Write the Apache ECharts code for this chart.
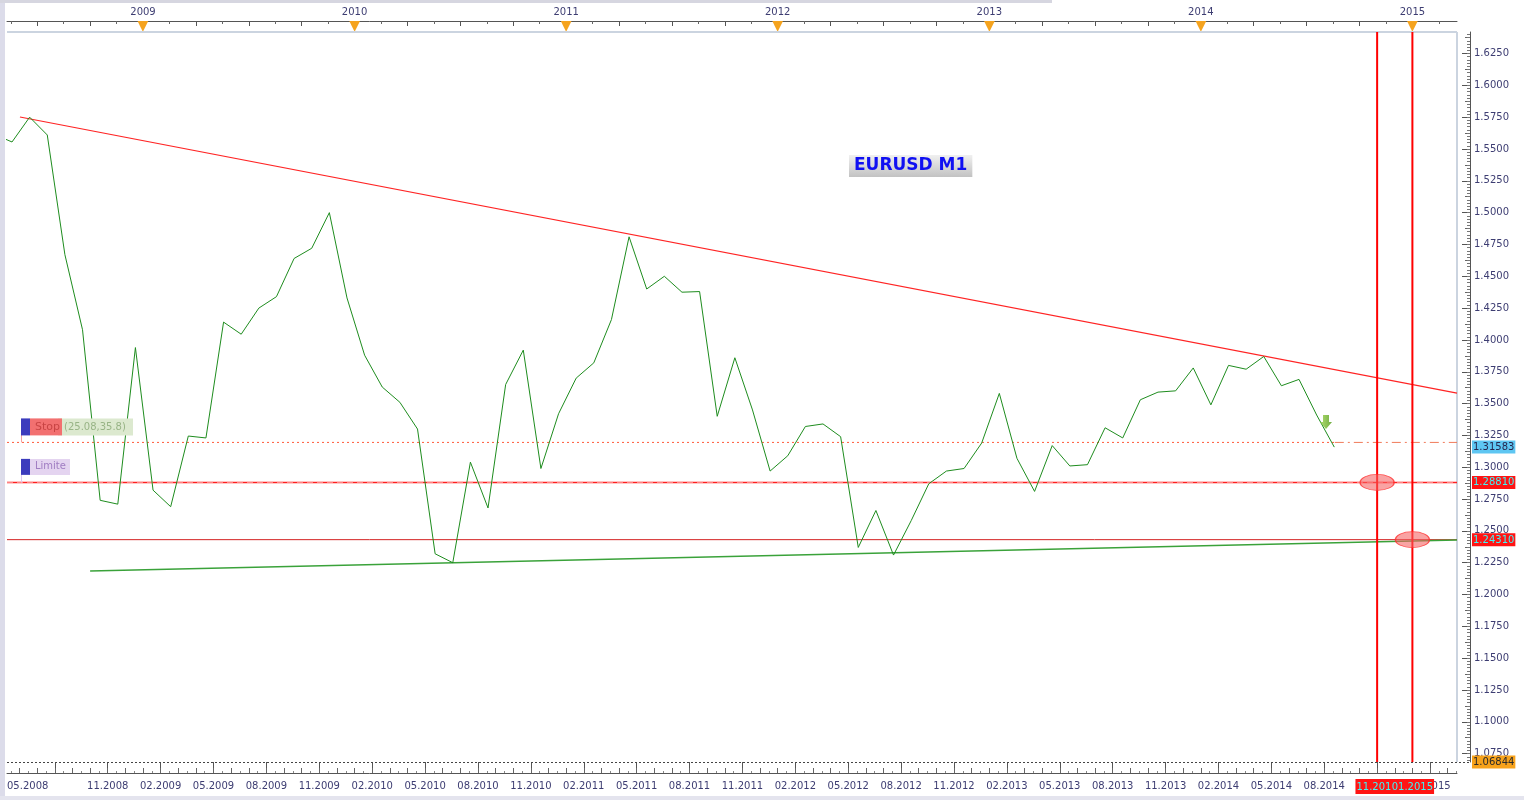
<!DOCTYPE html>
<html><head><meta charset="utf-8">
<script src="https://cdn.jsdelivr.net/npm/echarts@6/dist/echarts.min.js"></script>
<style>html,body{margin:0;padding:0;background:#fff}#c{width:1524px;height:800px}</style>
</head><body><div id="c"></div>
<script>
// ---------- data ----------
// x unit: months since Jan 2008 (0 = start of Jan 2008)
const startMonth = 3; // first close = Apr 2008
const pointOffset = 0.57; // bar point sits inside its month
const closes = [
  1.5615, 1.5555, 1.5750, 1.5610, 1.4670, 1.4080, 1.2740, 1.2710, 1.3940,           // Apr08..Dec08
  1.2820, 1.2690, 1.3245, 1.3230, 1.4140, 1.4045, 1.4250, 1.4340, 1.4640, 1.4720, 1.5000, 1.4330, // 2009
  1.3880, 1.3630, 1.3510, 1.3300, 1.2320, 1.2250, 1.3040, 1.2680, 1.3650, 1.3920, 1.2990, 1.3420, // 2010
  1.3700, 1.3820, 1.4160, 1.4810, 1.4400, 1.4500, 1.4375, 1.4380, 1.3400, 1.3860, 1.3450, 1.2970, // 2011
  1.3090, 1.3320, 1.3340, 1.3240, 1.2370, 1.2660, 1.2310, 1.2580, 1.2870, 1.2970, 1.2990, 1.3190, // 2012
  1.3580, 1.3070, 1.2810, 1.3170, 1.3010, 1.3020, 1.3310, 1.3230, 1.3530, 1.3590, 1.3600, 1.3780, // 2013
  1.3490, 1.3800, 1.3770, 1.3870, 1.3640, 1.3690, 1.3410, 1.3158                                  // 2014
];
const xMin = 4.286, xMax = 86.53;
const yMin = 1.06844, yMax = 1.6419;

const yTickValues = [1.075,1.1,1.125,1.15,1.175,1.2,1.225,1.25,1.275,1.3,1.325,1.35,1.375,1.4,1.425,1.45,1.475,1.5,1.525,1.55,1.575,1.6,1.625];
const yearLabels = ['2009','2010','2011','2012','2013','2014','2015'];
const yearMonths = [12,24,36,48,60,72,84];
const firstLabel = '05.2008';
const bottomLabels = ['11.2008','02.2009','05.2009','08.2009','11.2009','02.2010','05.2010','08.2010','11.2010','02.2011','05.2011','08.2011','11.2011','02.2012','05.2012','08.2012','11.2012','02.2013','05.2013','08.2013','11.2013','02.2014','05.2014','08.2014','11.2014','02.2015'];
const bottomLabelMonths = [10,13,16,19,22,25,28,31,34,37,40,43,46,49,52,55,58,61,64,67,70,73,76,79,82,85];

const resistance = [[5.02, 1.5751], [86.53, 1.3582]];
const support = [[9.0, 1.2184], [86.53, 1.2428]];
const stopLevel = 1.3195;
const limitLevel = 1.2881;
const lowLevel = 1.2431;
const lastPrice = 1.31583;
const lastBarMonth = 79.6;
const vLineMonths = [82, 84];
const vLineLabels = ['11.2014', '01.2015'];
const ellipses = [[82, 1.2881], [84, 1.2431]];
const arrowPoint = [[79.1, 1.3355]];
const priceTags = [lastPrice, limitLevel, lowLevel, yMin];

// ---------- chart ----------
const FONT = 'DejaVu Sans';
const LBL = '#3d3d72';
const chart = echarts.init(document.getElementById('c'));
const priceData = closes.map((v, i) => [startMonth + i + pointOffset, v]);
const range = (a, b, s) => { const r = []; for (let v = a; v <= b + 1e-9; v += s) r.push(+v.toFixed(6)); return r; };
const pick = (vals, list) => v => { const i = vals.findIndex(x => Math.abs(x - v) < 1e-6); return i < 0 ? '' : list[i]; };

const xBase = { type: 'value', min: xMin, max: xMax, gridIndex: 0, splitLine: { show: false }, axisLine: { show: false }, axisTick: { show: false }, axisLabel: { show: false } };
const yBase = { type: 'value', min: yMin, max: yMax, position: 'right', offset: 13, splitLine: { show: false }, axisLine: { show: false }, axisTick: { show: false }, axisLabel: { show: false }, scale: true };

const bottomMajor = range(7, 85, 3);
const bottomMinor = range(5, 86, 1);
const bottomTiny = range(4.5, 86.5, 1);
const topQuarter = range(6, 86, 3);
const topHalf = range(4.5, 86, 3);

const redTagAxis = (i) => Object.assign({}, xBase, { position: 'bottom', offset: 11,
  axisLabel: { show: true, customValues: [vLineMonths[i]], margin: 6,
    formatter: () => '{t|' + vLineLabels[i] + '}',
    rich: { t: { backgroundColor: '#ff1414', color: '#3ff6f6', fontFamily: FONT, fontSize: 10, padding: [3, 1, 2, 1] } } } });

const option = {
  animation: false,
  backgroundColor: '#ffffff',
  grid: { left: 7, right: 67, top: 32, bottom: 38, show: false },
  title: {
    text: 'EURUSD M1', left: 849, top: 155,
    padding: [1, 5, 1, 5],
    backgroundColor: new echarts.graphic.LinearGradient(0, 0, 0, 1, [{ offset: 0, color: '#f0f0f0' }, { offset: 1, color: '#c2c2c2' }]),
    textStyle: { color: '#1010f2', fontFamily: FONT, fontSize: 17, fontWeight: 'bold', lineHeight: 20 }
  },
  xAxis: [
    Object.assign({}, xBase, { position: 'bottom', offset: 11,
      axisLine: { show: true, lineStyle: { color: '#555', width: 1 } },
      axisTick: { show: true, inside: true, length: 11, customValues: bottomMajor, lineStyle: { color: '#555' } },
      axisLabel: { show: true, customValues: [xMin].concat(bottomLabelMonths), alignMinLabel: 'left', showMinLabel: true,
        formatter: v => Math.abs(v - xMin) < 1e-6 ? firstLabel : pick(bottomLabelMonths, bottomLabels)(v),
        color: LBL, fontFamily: FONT, fontSize: 10, margin: 8 } }),
    Object.assign({}, xBase, { position: 'bottom', offset: 11,
      axisTick: { show: true, inside: true, length: 5, customValues: bottomMinor, lineStyle: { color: '#666' } } }),
    Object.assign({}, xBase, { position: 'bottom', offset: 11,
      axisTick: { show: true, inside: true, length: 2, customValues: bottomTiny, lineStyle: { color: '#888' } } }),
    redTagAxis(0),
    redTagAxis(1),
    Object.assign({}, xBase, { position: 'top', offset: 11,
      axisLine: { show: true, lineStyle: { color: '#555', width: 1 } },
      axisTick: { show: true, inside: true, length: 5, customValues: topQuarter, lineStyle: { color: '#555' } },
      axisLabel: { show: true, customValues: yearMonths, formatter: pick(yearMonths, yearLabels), color: LBL, fontFamily: FONT, fontSize: 10, margin: 4 } }),
    Object.assign({}, xBase, { position: 'top', offset: 11,
      axisTick: { show: true, inside: true, length: 3, customValues: topHalf, lineStyle: { color: '#666' } } }),
    Object.assign({}, xBase, { position: 'top', offset: 11,
      axisLabel: { show: true, inside: true, customValues: yearMonths, margin: -2, formatter: () => '▼', color: '#f5a31e', fontFamily: FONT, fontSize: 14 } })
  ],
  yAxis: [
    Object.assign({}, yBase, {
      axisLine: { show: true, lineStyle: { color: '#555' } },
      axisTick: { show: true, inside: true, length: 8, customValues: yTickValues, lineStyle: { color: '#555' } },
      axisLabel: { show: true, customValues: yTickValues, formatter: v => v.toFixed(4), color: LBL, fontFamily: FONT, fontSize: 10, margin: 4 } }),
    Object.assign({}, yBase, { axisTick: { show: true, inside: true, length: 5, customValues: range(1.0875, 1.64, 0.025), lineStyle: { color: '#666' } } }),
    Object.assign({}, yBase, { axisTick: { show: true, inside: true, length: 3, customValues: range(1.07, 1.64, 0.0025), lineStyle: { color: '#777' } } }),
    Object.assign({}, yBase, {
      axisLabel: { show: true, customValues: priceTags, margin: 2,
        formatter: v => {
          const s = v.toFixed(5);
          if (Math.abs(v - lastPrice) < 1e-6) return '{b|' + s + '}';
          if (Math.abs(v - yMin) < 1e-6) return '{o|' + s + '}';
          return '{r|' + s + '}';
        },
        rich: {
          b: { backgroundColor: '#5ec6f2', color: '#26264e', fontFamily: FONT, fontSize: 10, padding: [2, 1, 1, 1] },
          r: { backgroundColor: '#ff1414', color: '#3ff6f6', fontFamily: FONT, fontSize: 10, padding: [2, 1, 1, 1] },
          o: { backgroundColor: '#f7a21b', color: '#2a2a2a', fontFamily: FONT, fontSize: 10, padding: [2, 1, 1, 1] }
        } } })
  ],
  series: [
    { type: 'line', data: [[xMin, lowLevel], [xMax, lowLevel]], symbol: 'none', lineStyle: { color: '#d42020', width: 1 }, z: 2 },
    { type: 'line', data: [[xMin, limitLevel], [xMax, limitLevel]], symbol: 'none', lineStyle: { color: '#ff2020', width: 1.5 }, z: 2 },
    { type: 'line', data: [[xMin, limitLevel], [xMax, limitLevel]], symbol: 'none', lineStyle: { color: '#ff9090', width: 1, type: [6, 4] }, z: 3 },
    { type: 'line', data: [[xMin, stopLevel], [lastBarMonth, stopLevel]], symbol: 'none', lineStyle: { color: '#ff5a3a', width: 1, type: [2, 3] }, z: 2 },
    { type: 'line', data: [[lastBarMonth, stopLevel], [xMax, stopLevel]], symbol: 'none', lineStyle: { color: '#f07a5a', width: 1, type: [9, 4, 2, 4] }, z: 2 },
    { type: 'line', data: support, symbol: 'none', lineStyle: { color: '#3aa23a', width: 1.5 }, z: 3 },
    { type: 'line', data: resistance, symbol: 'none', lineStyle: { color: '#ff2424', width: 1.2 }, z: 3 },
    { type: 'line', data: priceData, symbol: 'none', clip: true, lineStyle: { color: '#1e8c1e', width: 1 }, z: 4 },
    { type: 'line', data: [[vLineMonths[0], yMin], [vLineMonths[0], yMax]], symbol: 'none', lineStyle: { color: '#ff0000', width: 2 }, z: 5 },
    { type: 'line', data: [[vLineMonths[1], yMin], [vLineMonths[1], yMax]], symbol: 'none', lineStyle: { color: '#ff0000', width: 2 }, z: 5 },
    { type: 'scatter', data: ellipses, symbol: 'circle', symbolSize: [34, 16], itemStyle: { color: 'rgba(244,96,96,0.72)', borderColor: '#ff3030', borderWidth: 1 }, z: 6 },
    { type: 'scatter', data: arrowPoint, symbol: 'path://M3,0 L9,0 L9,7 L12,7 L6,14 L0,7 L3,7 Z', symbolSize: [12, 14],
      itemStyle: { color: new echarts.graphic.LinearGradient(0, 0, 1, 0, [{ offset: 0, color: '#9bd24a' }, { offset: 1, color: '#4f9a14' }]) }, z: 7 }
  ]
};
chart.setOption(option);

// ---------- annotations positioned from the axes ----------
const yStop = chart.convertToPixel({ yAxisIndex: 0 }, stopLevel);
const yLim = chart.convertToPixel({ yAxisIndex: 0 }, limitLevel);
const gx0 = 7, gx1 = 1457, gy0 = 32, gy1 = 762;
chart.setOption({
  graphic: [
    { type: 'rect', shape: { x: 0, y: 0, width: 5, height: 800 }, style: { fill: '#dcdcea' }, z: 100 },
    { type: 'rect', shape: { x: 0, y: 796, width: 1524, height: 4 }, style: { fill: '#e4e4ee' }, z: 100 },
    { type: 'rect', shape: { x: 0, y: 0, width: 1052, height: 3 }, style: { fill: '#d6d6e0' }, z: 100 },
    { type: 'line', shape: { x1: gx0, y1: gy0, x2: gx1, y2: gy0 }, style: { stroke: '#cbd4e0', lineWidth: 2 }, z: 1 },
    { type: 'line', shape: { x1: gx1, y1: gy0, x2: gx1, y2: gy1 }, style: { stroke: '#cbd4e0', lineWidth: 2 }, z: 1 },
    { type: 'line', shape: { x1: gx0, y1: gy1 + 0.5, x2: gx1 + 13, y2: gy1 + 0.5 }, style: { stroke: '#444', lineWidth: 1, lineDash: [2, 2] }, z: 1 },
    // Stop label
    { type: 'line', shape: { x1: 21.5, y1: yStop - 8, x2: 21.5, y2: yStop }, style: { stroke: '#f4a0a0', lineWidth: 1 }, z: 20 },
    { type: 'rect', shape: { x: 58, y: yStop - 24, width: 75, height: 17 }, style: { fill: '#dce9cf' }, z: 20 },
    { type: 'text', style: { x: 64, y: yStop - 15.5, text: '(25.08,35.8)', fill: '#98b486', font: '10px "DejaVu Sans"', verticalAlign: 'middle' }, z: 21 },
    { type: 'rect', shape: { x: 30, y: yStop - 24, width: 32, height: 17 }, style: { fill: '#f27070' }, z: 22 },
    { type: 'text', style: { x: 35, y: yStop - 15.5, text: 'Stop', fill: '#c84444', font: '11px "DejaVu Sans"', verticalAlign: 'middle' }, z: 23 },
    { type: 'rect', shape: { x: 21, y: yStop - 24, width: 9, height: 17 }, style: { fill: '#3b3bbd' }, z: 23 },
    // Limite label
    { type: 'line', shape: { x1: 21.5, y1: yLim - 8, x2: 21.5, y2: yLim }, style: { stroke: '#e0c8f0', lineWidth: 1 }, z: 20 },
    { type: 'rect', shape: { x: 30, y: yLim - 23.5, width: 40, height: 16 }, style: { fill: '#e4d4f0' }, z: 22 },
    { type: 'text', style: { x: 35, y: yLim - 15.5, text: 'Limite', fill: '#a07cc2', font: '10px "DejaVu Sans"', verticalAlign: 'middle' }, z: 23 },
    { type: 'rect', shape: { x: 21, y: yLim - 23.5, width: 9, height: 16 }, style: { fill: '#3b3bbd' }, z: 23 }
  ]
});
</script>
</body></html>
